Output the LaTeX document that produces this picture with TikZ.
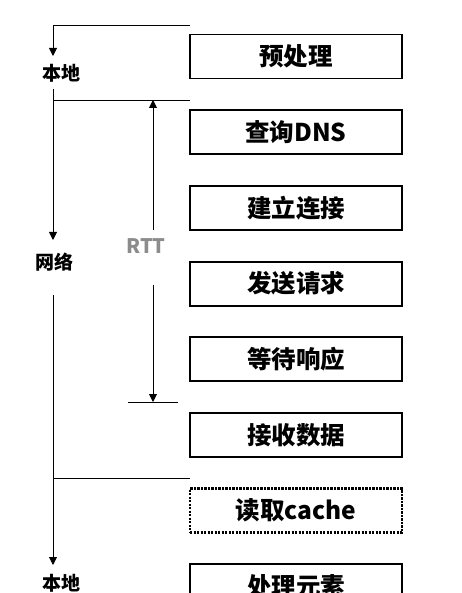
\documentclass[tikz,border=0pt]{standalone}
\usepackage{fontspec}
\newfontfamily\cjk{Noto Sans CJK SC}
\usetikzlibrary{arrows.meta}
\tikzset{
  stepbox/.style={draw=black, line width=1.9pt, minimum width=212pt, minimum height=44pt, inner sep=0pt,
    font=\cjk\bfseries\fontsize{24.5}{24.5}\selectfont},
  cachebox/.style={stepbox, line width=2.3pt, dash pattern=on 2.2pt off 1.3pt},
  sidelabel/.style={font=\cjk\bfseries\fontsize{19}{19}\selectfont, inner sep=0pt},
  rttlabel/.style={font=\cjk\bfseries\fontsize{20}{20}\selectfont, text=gray!90, inner sep=0pt},
  conn/.style={draw=black, line width=0.9pt},
  arr/.style={conn, -{Triangle[width=8pt,length=8pt]}},
}
\begin{document}
\begin{tikzpicture}[x=1pt,y=-1pt]
\useasboundingbox (0,0) rectangle (462,593);
\clip (0,0) rectangle (462,593);
% boxes
\node[stepbox] (b1) at (296,56.5) {预处理};
\node[stepbox] (b2) at (296,132.2) {查询DNS};
\node[stepbox] (b3) at (296,207.9) {建立连接};
\node[stepbox] (b4) at (296,283.6) {发送请求};
\node[stepbox] (b5) at (296,359.3) {等待响应};
\node[stepbox] (b6) at (296,435.0) {接收数据};
\node[cachebox] (b7) at (296,510.5) {读取cache};
\node[stepbox] (b8) at (296,586.4) {处理元素};
% left labels
\node[sidelabel] (l1) at (61,73) {本地};
\node[sidelabel] (l2) at (54,262) {网络};
\node[sidelabel] (l3) at (61,583) {本地};
\node[rttlabel] (rtt) at (146,246) {RTT};
% coordinates
\coordinate (h1r) at (190,25);
\coordinate (h1l) at (53,25);
\coordinate (a1) at (53,56);
\coordinate (s2) at (53,89);
\coordinate (h2l) at (53,100);
\coordinate (h2r) at (190,100);
\coordinate (a2) at (53,240);
\coordinate (s3) at (53,295);
\coordinate (h3l) at (53,478);
\coordinate (h3r) at (190,478);
\coordinate (a3) at (53,565);
\coordinate (r1s) at (153,230);
\coordinate (r1e) at (153,100);
\coordinate (r2s) at (153,285);
\coordinate (r2e) at (153,402);
\coordinate (tl) at (128,402);
\coordinate (tr) at (178,402);
% connectors
\draw[arr] (h1r) -- (h1l) -- (a1);
\draw[arr] (s2) -- (a2);
\draw[conn] (h2l) -- (h2r);
\draw[arr] (s3) -- (a3);
\draw[conn] (h3l) -- (h3r);
\draw[arr] (r1s) -- (r1e);
\draw[arr] (r2s) -- (r2e);
\draw[conn] (tl) -- (tr);
\end{tikzpicture}
\end{document}
